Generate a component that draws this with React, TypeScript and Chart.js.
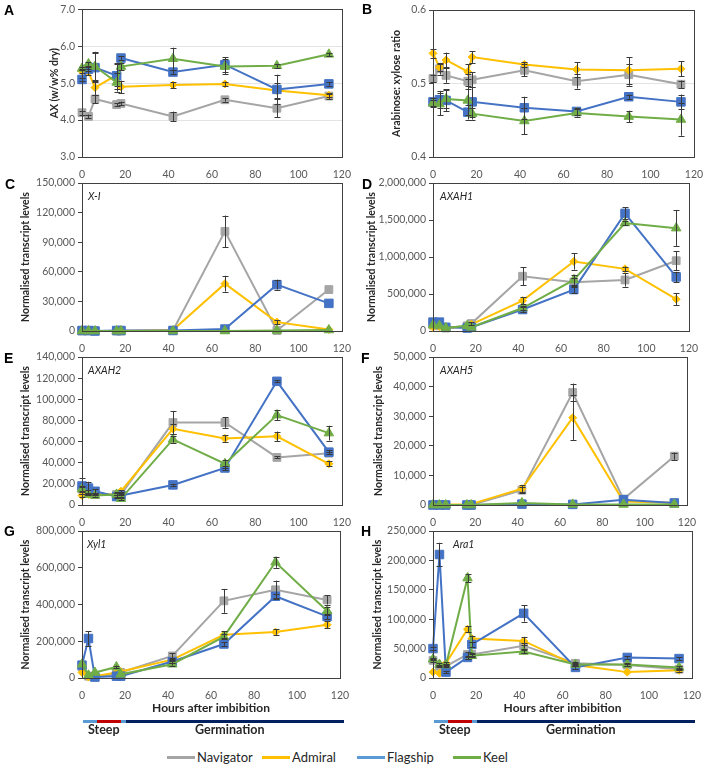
import React, { useEffect, useRef } from "react";
import { Chart, registerables } from "chart.js";
Chart.register(...registerables);

// ---------- data ----------
const hours = [0, 3, 6, 16, 18, 42, 66, 90, 114];
const varieties = ["Navigator", "Admiral", "Flagship", "Keel"];
const lineColors = ["#A5A5A5", "#FFC000", "#4472C4", "#70AD47"];
const legendColors = ["#A5A5A5", "#FFC000", "#5B9BD5", "#70AD47"];

// A: AX (w/w% dry)
const axNavigator = [4.2, 4.1, 4.57, 4.42, 4.45, 4.1, 4.55, 4.32, 4.65];
const axAdmiral = [5.32, 5.3, 4.88, 5.22, 4.9, 4.95, 4.98, 4.8, 4.67];
const axFlagship = [5.1, 5.38, 5.42, 5.2, 5.68, 5.3, 5.5, 4.83, 4.98];
const axKeel = [5.4, 5.52, 5.45, 5.02, 5.45, 5.66, 5.45, 5.47, 5.78];
const axNavigatorErr = [0.05, 0.05, 0.12, 0.04, 0.05, 0.13, 0.05, 0.25, 0.08];
const axAdmiralErr = [0.05, 0.08, 0.2, 0.3, 0.17, 0.08, 0.06, 0.2, 0.04];
const axFlagshipErr = [0.05, 0.05, 0.4, 0.35, 0.05, 0.05, 0.2, 0.4, 0.05];
const axKeelErr = [0.05, 0.05, 0.4, 0.25, 0.1, 0.3, 0.2, 0.05, 0.05];

// B: Arabinose : xylose ratio
const axRatioNavigator = [0.507, 0.52, 0.511, 0.503, 0.505, 0.518, 0.503, 0.512, 0.499];
const axRatioAdmiral = [0.541, 0.522, 0.532, 0.516, 0.536, 0.526, 0.519, 0.518, 0.52];
const axRatioFlagship = [0.475, 0.478, 0.477, 0.461, 0.475, 0.467, 0.462, 0.482, 0.475];
const axRatioKeel = [0.473, 0.472, 0.479, 0.477, 0.459, 0.449, 0.46, 0.455, 0.451];
const axRatioNavigatorErr = [0.005, 0.008, 0.01, 0.01, 0.01, 0.008, 0.01, 0.015, 0.005];
const axRatioAdmiralErr = [0.006, 0.005, 0.01, 0.01, 0.008, 0.003, 0.01, 0.018, 0.01];
const axRatioFlagshipErr = [0.005, 0.012, 0.015, 0.01, 0.02, 0.015, 0.005, 0.003, 0.01];
const axRatioKeelErr = [0.005, 0.015, 0.012, 0.02, 0.008, 0.018, 0.005, 0.008, 0.022];

// C: X-I
const xiNavigator = [0, 0, 0, 0, 0, 500, 101000, 500, 42000];
const xiAdmiral = [0, 0, 0, 0, 0, 1000, 48000, 9000, 1500];
const xiFlagship = [500, 500, 0, 500, 500, 500, 2000, 47000, 28000];
const xiKeel = [0, 0, 0, 0, 0, 0, 0, 500, 1000];
const xiNavigatorErr = [0, 0, 0, 0, 0, 0, 16000, 0, 1000];
const xiAdmiralErr = [0, 0, 0, 0, 0, 0, 8000, 2000, 0];
const xiFlagshipErr = [0, 0, 0, 0, 0, 0, 0, 5000, 0];
const xiKeelErr = [0, 0, 0, 0, 0, 0, 0, 0, 0];

// D: AXAH1
const axah1Navigator = [80000, 70000, 40000, 70000, 100000, 740000, 660000, 690000, 950000];
const axah1Admiral = [50000, 60000, 40000, 60000, 90000, 410000, 940000, 840000, 430000];
const axah1Flagship = [120000, 120000, 50000, 40000, 50000, 290000, 560000, 1590000, 730000];
const axah1Keel = [80000, 70000, 40000, 70000, 50000, 310000, 690000, 1460000, 1390000];
const axah1NavigatorErr = [10000, 10000, 5000, 10000, 20000, 120000, 60000, 90000, 130000];
const axah1AdmiralErr = [10000, 10000, 5000, 10000, 10000, 50000, 110000, 30000, 80000];
const axah1FlagshipErr = [10000, 10000, 5000, 5000, 10000, 30000, 50000, 80000, 70000];
const axah1KeelErr = [10000, 10000, 5000, 10000, 10000, 30000, 70000, 30000, 240000];

// E: AXAH2
const axah2Navigator = [15000, 12000, 10000, 10000, 10000, 78000, 78000, 45000, 49000];
const axah2Admiral = [9000, 10000, 10000, 10000, 13000, 72000, 63000, 65000, 39000];
const axah2Flagship = [18000, 16000, 13000, 8000, 9000, 19000, 35000, 117000, 50000];
const axah2Keel = [15000, 10000, 9000, 10000, 6000, 62000, 39000, 85000, 68000];
const axah2NavigatorErr = [3000, 2000, 1000, 1000, 1000, 11000, 5000, 1000, 1000];
const axah2AdmiralErr = [1000, 1000, 1000, 1000, 1000, 5000, 3000, 4500, 2500];
const axah2FlagshipErr = [8000, 6000, 2000, 1000, 1000, 1000, 2000, 1000, 2000];
const axah2KeelErr = [2000, 1000, 1000, 2000, 1000, 3000, 4000, 5000, 7000];

// F: AXAH5
const axah5Navigator = [0, 0, 0, 0, 0, 5000, 38000, 2000, 16500];
const axah5Admiral = [200, 300, 200, 200, 300, 5500, 29500, 1200, 800];
const axah5Flagship = [0, 0, 0, 0, 0, 300, 200, 1800, 700];
const axah5Keel = [0, 0, 0, 0, 0, 700, 200, 200, 200];
const axah5NavigatorErr = [0, 0, 0, 0, 0, 1000, 3000, 300, 1200];
const axah5AdmiralErr = [0, 0, 0, 0, 0, 1200, 7500, 300, 200];
const axah5FlagshipErr = [0, 0, 0, 0, 0, 0, 0, 300, 200];
const axah5KeelErr = [0, 0, 0, 0, 0, 200, 0, 0, 0];

// G: Xyl1
const xyl1Navigator = [60000, 10000, 10000, 20000, 30000, 120000, 420000, 480000, 425000];
const xyl1Admiral = [30000, 5000, 10000, 30000, 35000, 100000, 235000, 250000, 290000];
const xyl1Flagship = [70000, 215000, 5000, 10000, 10000, 90000, 185000, 445000, 335000];
const xyl1Keel = [75000, 15000, 30000, 60000, 20000, 75000, 225000, 630000, 365000];
const xyl1NavigatorErr = [5000, 2000, 2000, 3000, 3000, 15000, 65000, 50000, 25000];
const xyl1AdmiralErr = [3000, 1000, 2000, 3000, 3000, 8000, 20000, 15000, 20000];
const xyl1FlagshipErr = [5000, 40000, 1000, 2000, 2000, 8000, 10000, 10000, 15000];
const xyl1KeelErr = [5000, 2000, 3000, 8000, 3000, 8000, 15000, 30000, 20000];

// H: Ara1
const ara1Navigator = [30000, 20000, 20000, 40000, 40000, 55000, 25000, 22000, 15000];
const ara1Admiral = [10000, 8000, 25000, 83000, 67000, 63000, 22000, 10000, 13000];
const ara1Flagship = [50000, 210000, 10000, 35000, 57000, 110000, 18000, 35000, 33000];
const ara1Keel = [32000, 23000, 22000, 170000, 38000, 45000, 23000, 23000, 18000];
const ara1NavigatorErr = [2000, 2000, 2000, 4000, 3000, 5000, 3000, 2000, 2000];
const ara1AdmiralErr = [1000, 1000, 2000, 5000, 5000, 7000, 2000, 1000, 2000];
const ara1FlagshipErr = [3000, 20000, 2000, 3000, 4000, 14000, 2000, 2000, 2000];
const ara1KeelErr = [2000, 2000, 2000, 7000, 3000, 3000, 2000, 2000, 2000];

const xTickMin = 0;
const xTickMax = 120;
const xTickStep = 20;

// ---------- panels ----------
type PanelDef = {
  letter: string;
  left: number; top: number; width: number; height: number;
  yw: number; pr: number; pt: number; xh: number;
  yMin: number; yMax: number; yStep: number; decimals: number;
  yTitle: string; yTitlePad: number; gene: string; geneDx: number; grid: boolean; xTitle: string;
  series: number[][]; errors: number[][];
  letterX: number; letterY: number;
};

const NORM = "Normalised transcript levels";
const HOURS = "Hours after imbibition";

const panels: PanelDef[] = [
  { letter: "A", left: 0, top: 0, width: 354, height: 179, yw: 82, pr: 11, pt: 9, xh: 22,
    yMin: 3, yMax: 7, yStep: 1, decimals: 1, yTitle: "AX (w/w% dry)", yTitlePad: 48, gene: "", geneDx: 6, grid: true, xTitle: "",
    series: [axNavigator, axAdmiral, axFlagship, axKeel], errors: [axNavigatorErr, axAdmiralErr, axFlagshipErr, axKeelErr],
    letterX: 4, letterY: 3 },
  { letter: "B", left: 354, top: 0, width: 354, height: 179, yw: 79, pr: 14, pt: 10, xh: 22,
    yMin: 0.4, yMax: 0.6, yStep: 0.1, decimals: 1, yTitle: "Arabinose: xylose ratio", yTitlePad: 36, gene: "", geneDx: 6, grid: true, xTitle: "",
    series: [axRatioNavigator, axRatioAdmiral, axRatioFlagship, axRatioKeel], errors: [axRatioNavigatorErr, axRatioAdmiralErr, axRatioFlagshipErr, axRatioKeelErr],
    letterX: 362, letterY: 2 },
  { letter: "C", left: 0, top: 173, width: 354, height: 180, yw: 82, pr: 11, pt: 10, xh: 22,
    yMin: 0, yMax: 150000, yStep: 30000, decimals: 0, yTitle: NORM, yTitlePad: 19, gene: "X-I", geneDx: 6, grid: false, xTitle: "",
    series: [xiNavigator, xiAdmiral, xiFlagship, xiKeel], errors: [xiNavigatorErr, xiAdmiralErr, xiFlagshipErr, xiKeelErr],
    letterX: 5, letterY: 177 },
  { letter: "D", left: 354, top: 173, width: 354, height: 180, yw: 79, pr: 19, pt: 10, xh: 22,
    yMin: 0, yMax: 2000000, yStep: 500000, decimals: 0, yTitle: NORM, yTitlePad: 11, gene: "AXAH1", geneDx: 7, grid: false, xTitle: "",
    series: [axah1Navigator, axah1Admiral, axah1Flagship, axah1Keel], errors: [axah1NavigatorErr, axah1AdmiralErr, axah1FlagshipErr, axah1KeelErr],
    letterX: 362, letterY: 177 },
  { letter: "E", left: 0, top: 347, width: 354, height: 180, yw: 82, pr: 12, pt: 10, xh: 22,
    yMin: 0, yMax: 140000, yStep: 20000, decimals: 0, yTitle: NORM, yTitlePad: 19, gene: "AXAH2", geneDx: 6, grid: false, xTitle: "",
    series: [axah2Navigator, axah2Admiral, axah2Flagship, axah2Keel], errors: [axah2NavigatorErr, axah2AdmiralErr, axah2FlagshipErr, axah2KeelErr],
    letterX: 4, letterY: 351 },
  { letter: "F", left: 354, top: 347, width: 354, height: 180, yw: 79, pr: 21, pt: 10, xh: 22,
    yMin: 0, yMax: 50000, yStep: 10000, decimals: 0, yTitle: NORM, yTitlePad: 18, gene: "AXAH5", geneDx: 7, grid: false, xTitle: "",
    series: [axah5Navigator, axah5Admiral, axah5Flagship, axah5Keel], errors: [axah5NavigatorErr, axah5AdmiralErr, axah5FlagshipErr, axah5KeelErr],
    letterX: 361, letterY: 351 },
  { letter: "G", left: 0, top: 521, width: 354, height: 198, yw: 82, pr: 14, pt: 10, xh: 41,
    yMin: 0, yMax: 800000, yStep: 200000, decimals: 0, yTitle: NORM, yTitlePad: 19, gene: "Xyl1", geneDx: 5, grid: false, xTitle: HOURS,
    series: [xyl1Navigator, xyl1Admiral, xyl1Flagship, xyl1Keel], errors: [xyl1NavigatorErr, xyl1AdmiralErr, xyl1FlagshipErr, xyl1KeelErr],
    letterX: 4, letterY: 524 },
  { letter: "H", left: 354, top: 521, width: 354, height: 198, yw: 79, pr: 16, pt: 10, xh: 41,
    yMin: 0, yMax: 250000, yStep: 50000, decimals: 0, yTitle: NORM, yTitlePad: 17, gene: "Ara1", geneDx: 20, grid: false, xTitle: HOURS,
    series: [ara1Navigator, ara1Admiral, ara1Flagship, ara1Keel], errors: [ara1NavigatorErr, ara1AdmiralErr, ara1FlagshipErr, ara1KeelErr],
    letterX: 361, letterY: 524 },
];

const pointStyles = ["rect", "rectRot", "rect", "triangle"];
const pointRadii = [5.5, 4, 6, 5.5];
const drawOrder = [3, 2, 1, 0];

const FONT = "Lato, 'Open Sans', sans-serif";

const panelPlugin = {
  id: "panelExtras",
  afterDatasetsDraw(chart: any) {
    const ctx = chart.ctx;
    const { left, right, top, bottom } = chart.chartArea;
    const ys = chart.scales.y;
    // error bars
    ctx.save();
    ctx.beginPath();
    ctx.rect(left - 6, top - 2, right - left + 12, bottom - top + 2);
    ctx.clip();
    ctx.strokeStyle = "#3A3A3A";
    ctx.lineWidth = 1;
    chart.data.datasets.forEach((ds: any, i: number) => {
      const errs = ds.errors as number[];
      const vals = ds.rawVals as number[];
      if (!errs || !vals) return;
      const meta = chart.getDatasetMeta(i);
      meta.data.forEach((pt: any, j: number) => {
        const e = errs[j];
        if (!e) return;
        const v = vals[j];
        const y1 = ys.getPixelForValue(v + e);
        const y2 = ys.getPixelForValue(v - e);
        if (Math.abs(y2 - y1) < 2) return;
        const x = Math.round(pt.x) + 0.5;
        ctx.beginPath();
        ctx.moveTo(x, y1);
        ctx.lineTo(x, y2);
        ctx.moveTo(x - 3, Math.round(y1) + 0.5);
        ctx.lineTo(x + 3, Math.round(y1) + 0.5);
        ctx.moveTo(x - 3, Math.round(y2) + 0.5);
        ctx.lineTo(x + 3, Math.round(y2) + 0.5);
        ctx.stroke();
      });
    });
    ctx.restore();
    // frame
    ctx.save();
    ctx.strokeStyle = "#404040";
    ctx.lineWidth = 1;
    ctx.strokeRect(Math.round(left) + 0.5, Math.round(top) + 0.5, Math.round(right - left), Math.round(bottom - top));
    // gene label
    const opts = chart.options.plugins.panelExtras || {};
    if (opts.gene) {
      ctx.fillStyle = "#262626";
      ctx.font = `italic 10.5px ${FONT}`;
      ctx.textAlign = "left";
      ctx.textBaseline = "middle";
      ctx.fillText(opts.gene, left + opts.geneDx, top + 14);
    }
    ctx.restore();
  },
};

function Panel({ p }: { p: PanelDef }) {
  const ref = useRef<HTMLCanvasElement>(null);
  useEffect(() => {
    if (!ref.current) return;
    const datasets = p.series.map((vals, i) => ({
      label: varieties[i],
      data: hours.map((h, j) => ({ x: h, y: vals[j] })),
      errors: p.errors[i],
      rawVals: vals,
      borderColor: lineColors[i],
      backgroundColor: lineColors[i],
      pointBackgroundColor: lineColors[i],
      pointBorderColor: lineColors[i],
      borderWidth: 2,
      pointStyle: pointStyles[i],
      pointRadius: pointRadii[i],
      pointBorderWidth: 1,
      tension: 0,
      clip: false as any,
      order: drawOrder[i],
    }));
    const chart = new Chart(ref.current, {
      type: "line",
      data: { datasets: datasets as any },
      options: {
        responsive: false,
        animation: false,
        events: [],
        layout: { padding: { top: p.pt, right: p.pr, left: 0, bottom: 0 } },
        plugins: {
          legend: { display: false },
          tooltip: { enabled: false },
          panelExtras: { gene: p.gene, geneDx: p.geneDx },
        } as any,
        scales: {
          x: {
            type: "linear",
            min: xTickMin,
            max: xTickMax,
            ticks: { stepSize: xTickStep, color: "#595959", font: { family: FONT, size: 10.5 }, padding: 3, maxRotation: 0 },
            grid: { display: false },
            border: { display: false },
            title: {
              display: !!p.xTitle,
              text: p.xTitle,
              color: "#262626",
              font: { family: FONT, size: 12, weight: "bold" },
              padding: { top: 0, bottom: 4 },
            },
            afterFit: (s: any) => { s.height = p.xh; },
          },
          y: {
            type: "linear",
            min: p.yMin,
            max: p.yMax,
            ticks: {
              stepSize: p.yStep,
              color: "#595959",
              font: { family: FONT, size: 10.5 },
              padding: 3,
              callback: (v: any) =>
                p.decimals > 0 ? Number(v).toFixed(p.decimals) : Number(v).toLocaleString("en-US"),
            },
            grid: {
              display: true,
              drawOnChartArea: p.grid,
              color: "#E3E3E3",
              drawTicks: true,
              tickLength: 4,
              tickColor: "#404040",
            },
            border: { display: false },
            title: {
              display: true,
              text: p.yTitle,
              color: "#262626",
              font: { family: FONT, size: 10.5, weight: "bold" },
              padding: { top: p.yTitlePad, bottom: 0 },
            },
            afterFit: (s: any) => { s.width = p.yw; },
          },
        },
      } as any,
      plugins: [panelPlugin],
    });
    return () => chart.destroy();
  }, [p]);
  return (
    <canvas
      ref={ref}
      width={p.width}
      height={p.height}
      style={{ position: "absolute", left: p.left, top: p.top, width: p.width, height: p.height }}
    />
  );
}

function Timeline({ x0 }: { x0: number }) {
  const segs = [
    { a: 0, b: 14, c: "#5B9BD5" },
    { a: 14, b: 38, c: "#C00000" },
    { a: 38, b: 43, c: "#5B9BD5" },
    { a: 43, b: 261, c: "#002060" },
  ];
  return (
    <>
      {segs.map((s, i) => (
        <div key={i} style={{ position: "absolute", left: x0 + s.a, top: 720, width: s.b - s.a, height: 3, background: s.c }} />
      ))}
      <div style={{ position: "absolute", left: x0 + 5, top: 722, font: `bold 12.5px ${FONT}`, color: "#262626", lineHeight: "16px" }}>Steep</div>
      <div style={{ position: "absolute", left: x0 + 112, top: 722, font: `bold 12.5px ${FONT}`, color: "#262626", lineHeight: "16px" }}>Germination</div>
    </>
  );
}

export default function App() {
  const legendX = [167, 262, 357, 453];
  return (
    <div style={{ position: "absolute", left: 0, top: 0, width: 708, height: 768, background: "#fff", overflow: "hidden" }}>
      {panels.map((p) => (
        <Panel key={p.letter} p={p} />
      ))}
      {panels.map((p) => (
        <div key={"l" + p.letter} style={{ position: "absolute", left: p.letterX, top: p.letterY, font: "bold 14px 'Liberation Sans', Arial, sans-serif", lineHeight: "14px", color: "#000" }}>
          {p.letter}
        </div>
      ))}
      <Timeline x0={83} />
      <Timeline x0={434} />
      {varieties.map((v, i) => (
        <div key={v} style={{ position: "absolute", left: legendX[i], top: 749, height: 16, display: "flex", alignItems: "center" }}>
          <div style={{ width: 28, height: 3, background: legendColors[i] }} />
          <span style={{ font: `13px ${FONT}`, color: "#262626", marginLeft: 2 }}>{v}</span>
        </div>
      ))}
    </div>
  );
}
